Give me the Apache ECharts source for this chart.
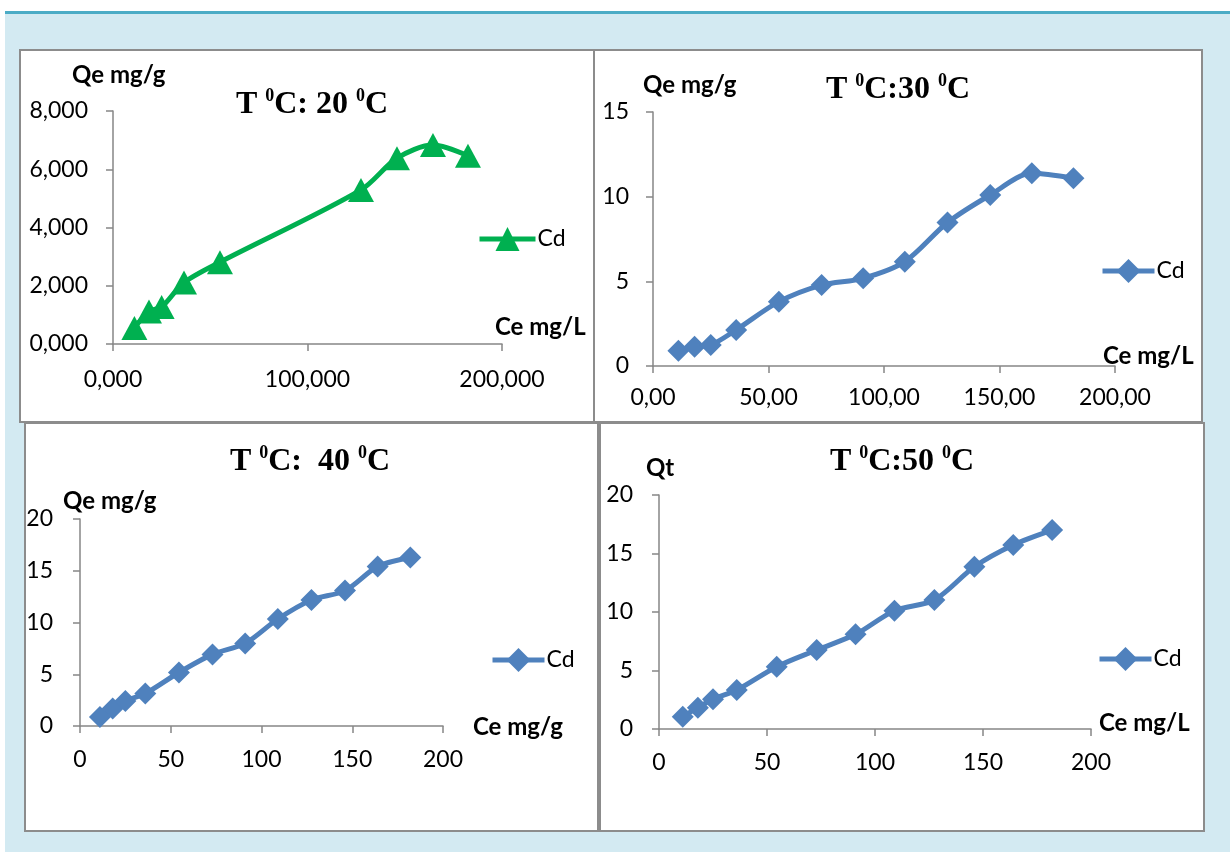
<!DOCTYPE html>
<html>
<head>
<meta charset="utf-8">
<script src="https://cdn.jsdelivr.net/npm/echarts@6/dist/echarts.min.js"></script>
<style>
  html, body { margin: 0; padding: 0; background: #ffffff; }
  #chart { width: 1230px; height: 852px; }
</style>
</head>
<body>
<div id="chart"></div>
<script>
// ---- Data ----
const ce20 = [11, 18.5, 25, 36.5, 55, 127.5, 146, 164.5, 182.5];
const qe20 = [0.55, 1.12, 1.27, 2.11, 2.81, 5.29, 6.38, 6.83, 6.46];

const ceValues = [11, 18, 25, 36, 54.5, 73, 91, 109, 127.5, 146, 164, 182];
const qe30 = [0.90, 1.14, 1.24, 2.13, 3.80, 4.78, 5.18, 6.16, 8.47, 10.10, 11.38, 11.09];
const qe40 = [0.87, 1.68, 2.42, 3.14, 5.17, 6.92, 7.98, 10.34, 12.18, 13.08, 15.41, 16.28];
const qe50 = [1.05, 1.82, 2.54, 3.33, 5.32, 6.75, 8.09, 10.11, 11.03, 13.87, 15.73, 17.00];

const panelTitles = ['20', '30', '40', '50'];
const seriesLabel = 'Cd';

const GREEN = '#00B050';
const BLUE = '#4F81BD';
const AXIS = '#868686';
const LABEL_FONT = 'Lato, "Open Sans", sans-serif';

function pairs(xs, ys) { return xs.map((x, i) => [x, ys[i]]); }
function comma(d) { return v => v.toFixed(d).replace('.', ','); }

function axisCfg(idx, max, interval, fmt, margin) {
  return {
    type: 'value', gridIndex: idx, min: 0, max: max, interval: interval,
    axisLine: { show: true, onZero: false, lineStyle: { color: AXIS, width: 1.5 } },
    axisTick: { show: true, inside: false, length: 7, lineStyle: { color: AXIS, width: 1.5 } },
    splitLine: { show: false },
    axisLabel: { formatter: fmt, margin: margin, color: '#000', fontSize: 23, fontFamily: LABEL_FONT }
  };
}

function titleText(x, y, temp, sep) {
  return {
    type: 'text', x: x, y: y, z: 100,
    style: {
      text: '{m|T }{s|0}{m|C:' + sep + temp + ' }{s|0}{m|C}',
      align: 'center', verticalAlign: 'middle',
      rich: {
        m: { fontFamily: '"Liberation Serif", "Times New Roman", serif', fontWeight: 'bold', fontSize: 32, lineHeight: 34, verticalAlign: 'bottom', fill: '#000' },
        s: { fontFamily: '"Liberation Serif", "Times New Roman", serif', fontWeight: 'bold', fontSize: 18, lineHeight: 34, verticalAlign: 'top', fill: '#000' }
      }
    }
  };
}
function axisName(x, y, text) {
  return {
    type: 'text', x: x, y: y, z: 100,
    style: { text: text, fontFamily: LABEL_FONT, fontWeight: 'bold', fontSize: 24, fill: '#000', align: 'left', verticalAlign: 'middle' }
  };
}
function panelRect(x, y, w, h) {
  return {
    type: 'rect', z: 0, shape: { x: x, y: y, width: w, height: h },
    style: { fill: '#ffffff', stroke: '#8c8c8c', lineWidth: 2 }
  };
}
function legendCfg(name, left, cy, w) {
  return {
    data: [name], left: left, top: cy - 15, itemWidth: w, itemHeight: 30, itemGap: 0,
    formatter: () => seriesLabel,
    lineStyle: { width: 5 },
    textStyle: { color: '#000', fontSize: 23, fontFamily: LABEL_FONT, padding: [0, 0, 0, -3] }
  };
}

const chart = echarts.init(document.getElementById('chart'), null, { renderer: 'canvas' });

const option = {
  backgroundColor: '#ffffff',
  animation: false,
  graphic: [
    { type: 'rect', z: -1, shape: { x: 5, y: 13, width: 1225, height: 839 }, style: { fill: '#D3EAF2' } },
    { type: 'rect', z: -1, shape: { x: 5, y: 11, width: 1225, height: 3 }, style: { fill: '#4BACC6' } },
    panelRect(20, 50, 574, 372),
    panelRect(594, 50, 608, 372),
    panelRect(25, 423, 573, 408),
    panelRect(600, 423, 604, 408),
    titleText(312, 104, panelTitles[0], ' '),
    titleText(898, 89, panelTitles[1], ''),
    titleText(310, 461, panelTitles[2], '  '),
    titleText(902, 461, panelTitles[3], ''),
    axisName(72, 75, 'Qe mg/g'),
    axisName(495, 327, 'Ce mg/L'),
    axisName(643, 85, 'Qe mg/g'),
    axisName(1103, 356, 'Ce mg/L'),
    axisName(63, 501, 'Qe mg/g'),
    axisName(473, 727, 'Ce mg/g'),
    axisName(646, 468, 'Qt'),
    axisName(1099, 723, 'Ce mg/L')
  ],
  grid: [
    { left: 113, top: 111, width: 389, height: 233 },
    { left: 653, top: 112, width: 462, height: 254 },
    { left: 80, top: 519, width: 363, height: 207 },
    { left: 659, top: 495, width: 432, height: 234 }
  ],
  xAxis: [
    axisCfg(0, 200, 100, comma(3), 24),
    axisCfg(1, 200, 50, comma(2), 20),
    axisCfg(2, 200, 50, v => String(v), 22),
    axisCfg(3, 200, 50, v => String(v), 22)
  ],
  yAxis: [
    axisCfg(0, 8, 2, comma(3), 25),
    axisCfg(1, 15, 5, v => String(v), 24),
    axisCfg(2, 20, 5, v => String(v), 27),
    axisCfg(3, 20, 5, v => String(v), 26)
  ],
  legend: [
    legendCfg('Cd20', 472, 237, 56),
    legendCfg('Cd30', 1095, 269, 52),
    legendCfg('Cd40', 485, 658, 52),
    legendCfg('Cd50', 1092, 657, 52)
  ],
  series: [
    { name: 'Cd20', type: 'line', xAxisIndex: 0, yAxisIndex: 0, data: pairs(ce20, qe20),
      smooth: 0.3, symbol: 'triangle', symbolSize: [26, 24],
      lineStyle: { color: GREEN, width: 5 }, itemStyle: { color: GREEN } },
    { name: 'Cd30', type: 'line', xAxisIndex: 1, yAxisIndex: 1, data: pairs(ceValues, qe30),
      smooth: 0.3, symbol: 'diamond', symbolSize: [22, 22],
      lineStyle: { color: BLUE, width: 5 }, itemStyle: { color: BLUE } },
    { name: 'Cd40', type: 'line', xAxisIndex: 2, yAxisIndex: 2, data: pairs(ceValues, qe40),
      smooth: 0.3, symbol: 'diamond', symbolSize: [22, 22],
      lineStyle: { color: BLUE, width: 5 }, itemStyle: { color: BLUE } },
    { name: 'Cd50', type: 'line', xAxisIndex: 3, yAxisIndex: 3, data: pairs(ceValues, qe50),
      smooth: 0.3, symbol: 'diamond', symbolSize: [22, 22],
      lineStyle: { color: BLUE, width: 5 }, itemStyle: { color: BLUE } }
  ]
};
chart.setOption(option);
</script>
</body>
</html>
